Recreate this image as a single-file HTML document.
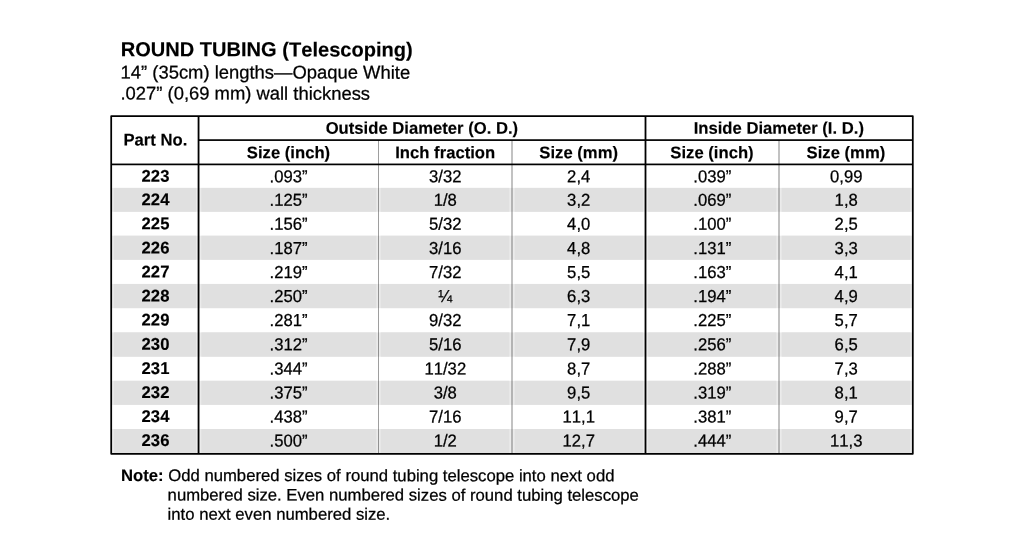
<!DOCTYPE html>
<html lang="en">
<head>
<meta charset="utf-8">
<title>Round Tubing (Telescoping)</title>
<style>
html,body{margin:0;padding:0;background:#fff;}
body{width:1024px;height:540px;overflow:hidden;position:relative;font-family:"Liberation Sans",Arial,Helvetica,sans-serif;color:#000;}
svg{position:absolute;left:0;top:0;display:block;}
text{font-family:"Liberation Sans",Arial,Helvetica,sans-serif;font-kerning:none;fill:#000;stroke:#000;stroke-width:0.25px;stroke-linejoin:round;}
.b{font-weight:bold;stroke-width:0.15px;}
.c{text-anchor:middle;}
.t{font-size:16.67px;}
.n{font-size:16.7px;}
</style>
</head>
<body>
<svg width="1024" height="540" viewBox="0 0 1024 540">
<rect x="0" y="0" width="1024" height="540" fill="#ffffff"/>
<g id="stripes">
<rect x="112" y="187.90" width="800" height="23.90" fill="#ebebeb"/>
<rect x="113.80" y="187.90" width="82.30" height="23.90" fill="#e0e0e0"/>
<rect x="201.30" y="187.90" width="175.10" height="23.90" fill="#e0e0e0"/>
<rect x="380.60" y="187.90" width="128.80" height="23.90" fill="#e0e0e0"/>
<rect x="514.60" y="187.90" width="128.30" height="23.90" fill="#e0e0e0"/>
<rect x="648.10" y="187.90" width="128.30" height="23.90" fill="#e0e0e0"/>
<rect x="781.60" y="187.90" width="128.80" height="23.90" fill="#e0e0e0"/>
<rect x="112" y="235.70" width="800" height="24.10" fill="#ebebeb"/>
<rect x="113.80" y="235.70" width="82.30" height="24.10" fill="#e0e0e0"/>
<rect x="201.30" y="235.70" width="175.10" height="24.10" fill="#e0e0e0"/>
<rect x="380.60" y="235.70" width="128.80" height="24.10" fill="#e0e0e0"/>
<rect x="514.60" y="235.70" width="128.30" height="24.10" fill="#e0e0e0"/>
<rect x="648.10" y="235.70" width="128.30" height="24.10" fill="#e0e0e0"/>
<rect x="781.60" y="235.70" width="128.80" height="24.10" fill="#e0e0e0"/>
<rect x="112" y="283.95" width="800" height="24.20" fill="#ebebeb"/>
<rect x="113.80" y="283.95" width="82.30" height="24.20" fill="#e0e0e0"/>
<rect x="201.30" y="283.95" width="175.10" height="24.20" fill="#e0e0e0"/>
<rect x="380.60" y="283.95" width="128.80" height="24.20" fill="#e0e0e0"/>
<rect x="514.60" y="283.95" width="128.30" height="24.20" fill="#e0e0e0"/>
<rect x="648.10" y="283.95" width="128.30" height="24.20" fill="#e0e0e0"/>
<rect x="781.60" y="283.95" width="128.80" height="24.20" fill="#e0e0e0"/>
<rect x="112" y="332.40" width="800" height="24.30" fill="#ebebeb"/>
<rect x="113.80" y="332.40" width="82.30" height="24.30" fill="#e0e0e0"/>
<rect x="201.30" y="332.40" width="175.10" height="24.30" fill="#e0e0e0"/>
<rect x="380.60" y="332.40" width="128.80" height="24.30" fill="#e0e0e0"/>
<rect x="514.60" y="332.40" width="128.30" height="24.30" fill="#e0e0e0"/>
<rect x="648.10" y="332.40" width="128.30" height="24.30" fill="#e0e0e0"/>
<rect x="781.60" y="332.40" width="128.80" height="24.30" fill="#e0e0e0"/>
<rect x="112" y="380.80" width="800" height="24.10" fill="#ebebeb"/>
<rect x="113.80" y="380.80" width="82.30" height="24.10" fill="#e0e0e0"/>
<rect x="201.30" y="380.80" width="175.10" height="24.10" fill="#e0e0e0"/>
<rect x="380.60" y="380.80" width="128.80" height="24.10" fill="#e0e0e0"/>
<rect x="514.60" y="380.80" width="128.30" height="24.10" fill="#e0e0e0"/>
<rect x="648.10" y="380.80" width="128.30" height="24.10" fill="#e0e0e0"/>
<rect x="781.60" y="380.80" width="128.80" height="24.10" fill="#e0e0e0"/>
<rect x="112" y="429.00" width="800" height="24.10" fill="#ebebeb"/>
<rect x="113.80" y="429.00" width="82.30" height="24.10" fill="#e0e0e0"/>
<rect x="201.30" y="429.00" width="175.10" height="24.10" fill="#e0e0e0"/>
<rect x="380.60" y="429.00" width="128.80" height="24.10" fill="#e0e0e0"/>
<rect x="514.60" y="429.00" width="128.30" height="24.10" fill="#e0e0e0"/>
<rect x="648.10" y="429.00" width="128.30" height="24.10" fill="#e0e0e0"/>
<rect x="781.60" y="429.00" width="128.80" height="24.10" fill="#e0e0e0"/>
</g>
<g id="rules">
<rect x="197.65" y="116.00" width="1.8" height="338.00" fill="#000"/>
<rect x="378" y="140.10" width="1" height="313.90" fill="#000" fill-opacity="0.38"/>
<rect x="511.00" y="140.10" width="2" height="313.90" fill="#000" fill-opacity="0.24"/>
<rect x="644.60" y="116.00" width="1.8" height="338.00" fill="#000"/>
<rect x="778.00" y="140.10" width="2" height="313.90" fill="#000" fill-opacity="0.24"/>
<rect x="199" y="139.25" width="714" height="1.7" fill="#000"/>
<rect x="111" y="163.55" width="802" height="1.7" fill="#000"/>
<rect x="111.2" y="116.05" width="801.60" height="337.75" fill="none" stroke="#000" stroke-width="1.75" stroke-linejoin="round"/>
</g>
<g id="heading">
<text class="b" font-size="20.07" transform="matrix(1 0.0005 0 1.015 120.65 56.30)">ROUND TUBING (Telescoping)</text>
<text font-size="18.41" transform="matrix(1 0.0005 0 1 120.60 78.50)">14” (35cm) lengths—Opaque White</text>
<text font-size="18.41" transform="matrix(1 0.0005 0 1 120.45 99.55)">.027” (0,69 mm) wall thickness</text>
</g>
<g id="thead">
<text class="b c t" transform="matrix(1 0.0005 0 1.015 155.40 145.60)">Part No.</text>
<text class="b c t" transform="matrix(1 0.0005 0 1.015 421.90 133.70)">Outside Diameter (O. D.)</text>
<text class="b c t" transform="matrix(1 0.0005 0 1.015 778.80 133.70)">Inside Diameter (I. D.)</text>
<text class="b c t" transform="matrix(1 0.0005 0 1.015 288.50 158.25)">Size (inch)</text>
<text class="b c t" transform="matrix(1 0.0005 0 1.015 445.20 158.25)">Inch fraction</text>
<text class="b c t" transform="matrix(1 0.0005 0 1.015 578.70 158.25)">Size (mm)</text>
<text class="b c t" transform="matrix(1 0.0005 0 1.015 712.00 158.25)">Size (inch)</text>
<text class="b c t" transform="matrix(1 0.0005 0 1.015 845.90 158.25)">Size (mm)</text>
</g>
<g id="tbody">
<text class="b c t" transform="matrix(1 0.0005 0 1.02 155.50 181.75)">223</text>
<text class="c t" transform="matrix(1 0.0005 0 1.04 288.60 182.25)">.093”</text>
<text class="c t" transform="matrix(1 0.0005 0 1.04 445.30 182.25)">3/32</text>
<text class="c t" transform="matrix(1 0.0005 0 1.04 578.70 182.25)">2,4</text>
<text class="c t" transform="matrix(1 0.0005 0 1.04 712.30 182.25)">.039”</text>
<text class="c t" transform="matrix(1 0.0005 0 1.04 846.20 182.25)">0,99</text>
<text class="b c t" transform="matrix(1 0.0005 0 1.02 155.50 205.32)">224</text>
<text class="c t" transform="matrix(1 0.0005 0 1.04 288.60 205.82)">.125”</text>
<text class="c t" transform="matrix(1 0.0005 0 1.04 445.30 205.82)">1/8</text>
<text class="c t" transform="matrix(1 0.0005 0 1.04 578.70 205.82)">3,2</text>
<text class="c t" transform="matrix(1 0.0005 0 1.04 712.30 205.82)">.069”</text>
<text class="c t" transform="matrix(1 0.0005 0 1.04 846.20 205.82)">1,8</text>
<text class="b c t" transform="matrix(1 0.0005 0 1.02 155.50 229.14)">225</text>
<text class="c t" transform="matrix(1 0.0005 0 1.04 288.60 229.64)">.156”</text>
<text class="c t" transform="matrix(1 0.0005 0 1.04 445.30 229.64)">5/32</text>
<text class="c t" transform="matrix(1 0.0005 0 1.04 578.70 229.64)">4,0</text>
<text class="c t" transform="matrix(1 0.0005 0 1.04 712.30 229.64)">.100”</text>
<text class="c t" transform="matrix(1 0.0005 0 1.04 846.20 229.64)">2,5</text>
<text class="b c t" transform="matrix(1 0.0005 0 1.02 155.50 253.56)">226</text>
<text class="c t" transform="matrix(1 0.0005 0 1.04 288.60 254.06)">.187”</text>
<text class="c t" transform="matrix(1 0.0005 0 1.04 445.30 254.06)">3/16</text>
<text class="c t" transform="matrix(1 0.0005 0 1.04 578.70 254.06)">4,8</text>
<text class="c t" transform="matrix(1 0.0005 0 1.04 712.30 254.06)">.131”</text>
<text class="c t" transform="matrix(1 0.0005 0 1.04 846.20 254.06)">3,3</text>
<text class="b c t" transform="matrix(1 0.0005 0 1.02 155.50 277.58)">227</text>
<text class="c t" transform="matrix(1 0.0005 0 1.04 288.60 278.08)">.219”</text>
<text class="c t" transform="matrix(1 0.0005 0 1.04 445.30 278.08)">7/32</text>
<text class="c t" transform="matrix(1 0.0005 0 1.04 578.70 278.08)">5,5</text>
<text class="c t" transform="matrix(1 0.0005 0 1.04 712.30 278.08)">.163”</text>
<text class="c t" transform="matrix(1 0.0005 0 1.04 846.20 278.08)">4,1</text>
<text class="b c t" transform="matrix(1 0.0005 0 1.02 155.50 301.40)">228</text>
<text class="c t" transform="matrix(1 0.0005 0 1.04 288.60 301.90)">.250”</text>
<text class="c t" transform="matrix(1 0.0005 0 1.04 445.30 301.90)">¼</text>
<text class="c t" transform="matrix(1 0.0005 0 1.04 578.70 301.90)">6,3</text>
<text class="c t" transform="matrix(1 0.0005 0 1.04 712.30 301.90)">.194”</text>
<text class="c t" transform="matrix(1 0.0005 0 1.04 846.20 301.90)">4,9</text>
<text class="b c t" transform="matrix(1 0.0005 0 1.02 155.50 325.57)">229</text>
<text class="c t" transform="matrix(1 0.0005 0 1.04 288.60 326.07)">.281”</text>
<text class="c t" transform="matrix(1 0.0005 0 1.04 445.30 326.07)">9/32</text>
<text class="c t" transform="matrix(1 0.0005 0 1.04 578.70 326.07)">7,1</text>
<text class="c t" transform="matrix(1 0.0005 0 1.04 712.30 326.07)">.225”</text>
<text class="c t" transform="matrix(1 0.0005 0 1.04 846.20 326.07)">5,7</text>
<text class="b c t" transform="matrix(1 0.0005 0 1.02 155.50 349.84)">230</text>
<text class="c t" transform="matrix(1 0.0005 0 1.04 288.60 350.34)">.312”</text>
<text class="c t" transform="matrix(1 0.0005 0 1.04 445.30 350.34)">5/16</text>
<text class="c t" transform="matrix(1 0.0005 0 1.04 578.70 350.34)">7,9</text>
<text class="c t" transform="matrix(1 0.0005 0 1.04 712.30 350.34)">.256”</text>
<text class="c t" transform="matrix(1 0.0005 0 1.04 846.20 350.34)">6,5</text>
<text class="b c t" transform="matrix(1 0.0005 0 1.02 155.50 373.96)">231</text>
<text class="c t" transform="matrix(1 0.0005 0 1.04 288.60 374.46)">.344”</text>
<text class="c t" transform="matrix(1 0.0005 0 1.04 445.30 374.46)">11/32</text>
<text class="c t" transform="matrix(1 0.0005 0 1.04 578.70 374.46)">8,7</text>
<text class="c t" transform="matrix(1 0.0005 0 1.04 712.30 374.46)">.288”</text>
<text class="c t" transform="matrix(1 0.0005 0 1.04 846.20 374.46)">7,3</text>
<text class="b c t" transform="matrix(1 0.0005 0 1.02 155.50 397.98)">232</text>
<text class="c t" transform="matrix(1 0.0005 0 1.04 288.60 398.48)">.375”</text>
<text class="c t" transform="matrix(1 0.0005 0 1.04 445.30 398.48)">3/8</text>
<text class="c t" transform="matrix(1 0.0005 0 1.04 578.70 398.48)">9,5</text>
<text class="c t" transform="matrix(1 0.0005 0 1.04 712.30 398.48)">.319”</text>
<text class="c t" transform="matrix(1 0.0005 0 1.04 846.20 398.48)">8,1</text>
<text class="b c t" transform="matrix(1 0.0005 0 1.02 155.50 422.10)">234</text>
<text class="c t" transform="matrix(1 0.0005 0 1.04 288.60 422.60)">.438”</text>
<text class="c t" transform="matrix(1 0.0005 0 1.04 445.30 422.60)">7/16</text>
<text class="c t" transform="matrix(1 0.0005 0 1.04 578.70 422.60)">11,1</text>
<text class="c t" transform="matrix(1 0.0005 0 1.04 712.30 422.60)">.381”</text>
<text class="c t" transform="matrix(1 0.0005 0 1.04 846.20 422.60)">9,7</text>
<text class="b c t" transform="matrix(1 0.0005 0 1.02 155.50 446.12)">236</text>
<text class="c t" transform="matrix(1 0.0005 0 1.04 288.60 446.62)">.500”</text>
<text class="c t" transform="matrix(1 0.0005 0 1.04 445.30 446.62)">1/2</text>
<text class="c t" transform="matrix(1 0.0005 0 1.04 578.70 446.62)">12,7</text>
<text class="c t" transform="matrix(1 0.0005 0 1.04 712.30 446.62)">.444”</text>
<text class="c t" transform="matrix(1 0.0005 0 1.04 846.20 446.62)">11,3</text>
</g>
<g id="note">
<text class="n" transform="matrix(1 0.0005 0 1 120.95 481.00)"><tspan class="b">Note:</tspan> Odd numbered sizes of round tubing telescope into next odd</text>
<text class="n" transform="matrix(1 0.0005 0 1 167.60 500.50)">numbered size. Even numbered sizes of round tubing telescope</text>
<text class="n" transform="matrix(1 0.0005 0 1 167.60 519.75)">into next even numbered size.</text>
</g>
</svg>
</body>
</html>
